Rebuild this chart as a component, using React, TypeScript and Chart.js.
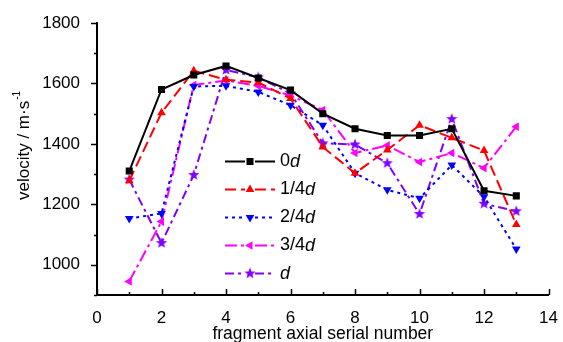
import React, { useEffect, useRef } from 'react';
import { Chart, registerables } from 'chart.js';

Chart.register(...registerables);

const fragments = [1, 2, 3, 4, 5, 6, 7, 8, 9, 10, 11, 12, 13];
const series0d = [1310, 1580, 1628, 1658, 1618, 1578, 1500, 1450, 1428, 1428, 1450, 1245, 1228];
const series1of4d = [1278, 1503, 1642, 1612, 1603, 1550, 1390, 1303, 1380, 1462, 1420, 1378, 1133];
const series2of4d = [1153, 1170, 1590, 1592, 1572, 1528, 1462, 1303, 1248, 1220, 1330, 1225, 1052];
const series3of4d = [945, 1143, 1595, 1610, 1592, 1560, 1512, 1370, 1395, 1340, 1370, 1320, 1457];
const seriesD = [1282, 1072, 1297, 1645, 1620, 1567, 1402, 1398, 1336, 1168, 1482, 1202, 1177];
const seriesLabels = ['0d', '1/4d', '2/4d', '3/4d', 'd'];
const yTickValues = [1000, 1200, 1400, 1600, 1800];
const xTickValues = [0, 2, 4, 6, 8, 10, 12, 14];

const FONT = '"Liberation Sans", Arial, sans-serif';

function makeStar(color: string, r: number) {
  const c = document.createElement('canvas');
  const s = Math.ceil(r * 2 + 2);
  c.width = s;
  c.height = s;
  const ctx = c.getContext('2d')!;
  ctx.beginPath();
  for (let i = 0; i < 10; i++) {
    const ang = -Math.PI / 2 + (i * Math.PI) / 5;
    const rr = i % 2 === 0 ? r : r * 0.42;
    ctx.lineTo(s / 2 + rr * Math.cos(ang), s / 2 + rr * Math.sin(ang));
  }
  ctx.closePath();
  ctx.fillStyle = color;
  ctx.fill();
  return c;
}

type Style = { color: string; dash: number[]; marker: string; rot: number };
const styles: Style[] = [
  { color: '#000000', dash: [], marker: 'rect', rot: 0 },
  { color: '#FF0000', dash: [11, 5], marker: 'triangle', rot: 0 },
  { color: '#0000FF', dash: [3, 4], marker: 'triangle', rot: 180 },
  { color: '#FF00FF', dash: [12, 4, 3, 4], marker: 'triangle', rot: 270 },
  { color: '#8000FF', dash: [9, 4, 3, 4], marker: 'star', rot: 0 },
];

function drawMarker(ctx: CanvasRenderingContext2D, st: Style, x: number, y: number, star: HTMLCanvasElement) {
  ctx.save();
  ctx.setLineDash([]);
  ctx.fillStyle = st.color;
  if (st.marker === 'rect') {
    ctx.fillRect(x - 3.5, y - 3.5, 7, 7);
  } else if (st.marker === 'triangle') {
    ctx.translate(x, y);
    ctx.rotate((st.rot * Math.PI) / 180);
    const r = 5;
    ctx.beginPath();
    ctx.moveTo(0, -r);
    ctx.lineTo(r * Math.cos(Math.PI / 6), r * 0.5);
    ctx.lineTo(-r * Math.cos(Math.PI / 6), r * 0.5);
    ctx.closePath();
    ctx.fill();
  } else {
    ctx.drawImage(star, x - star.width / 2, y - star.height / 2);
  }
  ctx.restore();
}

export default function App() {
  const ref = useRef<HTMLCanvasElement | null>(null);
  useEffect(() => {
    if (!ref.current) return;
    const star = makeStar('#8000FF', 6);
    const allSeries = [series0d, series1of4d, series2of4d, series3of4d, seriesD];

    const datasets = allSeries.map((vals, i) => {
      const st = styles[i];
      return {
        label: seriesLabels[i],
        data: fragments.map((f, j) => ({ x: f, y: vals[j] })),
        borderColor: st.color,
        backgroundColor: st.color,
        borderWidth: 2,
        borderDash: st.dash,
        pointStyle: st.marker === 'star' ? star : st.marker,
        pointRotation: st.rot,
        pointRadius: 5,
        pointBorderWidth: 0,
        pointBackgroundColor: st.color,
        pointBorderColor: st.color,
        tension: 0,
      };
    });

    const decor = {
      id: 'decor',
      afterDraw(chart: any) {
        const ctx: CanvasRenderingContext2D = chart.ctx;
        const xs = chart.scales.x;
        const ys = chart.scales.y;
        const area = chart.chartArea;
        ctx.save();
        ctx.strokeStyle = '#000';
        ctx.lineWidth = 1.5;
        ctx.setLineDash([]);
        for (let v = 900; v <= 1800; v += 100) {
          const py = Math.round(ys.getPixelForValue(v)) + 0.5;
          const len = v % 200 === 0 ? 6 : 3;
          ctx.beginPath();
          ctx.moveTo(area.left, py);
          ctx.lineTo(area.left - len, py);
          ctx.stroke();
        }
        for (let v = 0; v <= 14; v += 1) {
          const px = Math.round(xs.getPixelForValue(v)) + 0.5;
          const len = v % 2 === 0 ? 6 : 3;
          ctx.beginPath();
          ctx.moveTo(px, area.bottom);
          ctx.lineTo(px, area.bottom - len);
          ctx.stroke();
        }
        ctx.fillStyle = '#000';
        ctx.translate(24, 200);
        ctx.rotate(-Math.PI / 2);
        ctx.textAlign = 'left';
        ctx.textBaseline = 'middle';
        ctx.font = `17px ${FONT}`;
        const main = 'velocity / m·s';
        ctx.fillText(main, 0, 0);
        const w = ctx.measureText(main).width;
        ctx.font = `10px ${FONT}`;
        ctx.fillText('-1', w + 1, -7);
        ctx.restore();

        const rows = [161.5, 189.5, 217.5, 245.5, 273.5];
        rows.forEach((ry, i) => {
          const st = styles[i];
          ctx.save();
          ctx.strokeStyle = st.color;
          ctx.lineWidth = 2;
          ctx.setLineDash(st.dash);
          ctx.beginPath();
          ctx.moveTo(225, ry);
          ctx.lineTo(245, ry);
          ctx.stroke();
          ctx.beginPath();
          ctx.moveTo(255, ry);
          ctx.lineTo(275, ry);
          ctx.stroke();
          drawMarker(ctx, st, 250, ry, star);
          const label = seriesLabels[i];
          const pre = label.slice(0, -1);
          const last = label.slice(-1);
          ctx.fillStyle = '#000';
          ctx.textAlign = 'left';
          ctx.textBaseline = 'middle';
          ctx.font = `18px ${FONT}`;
          ctx.fillText(pre, 280, ry);
          const pw = ctx.measureText(pre).width;
          ctx.font = `italic 18px ${FONT}`;
          ctx.fillText(last, 280 + pw, ry);
          ctx.restore();
        });
      },
    };

    const chart = new Chart(ref.current, {
      type: 'line',
      data: { datasets },
      options: {
        animation: false,
        responsive: false,
        layout: { padding: { top: 23, right: 13, left: 0, bottom: 0 } },
        plugins: { legend: { display: false }, tooltip: { enabled: false } },
        scales: {
          x: {
            type: 'linear',
            min: 0,
            max: 14,
            afterBuildTicks: (s: any) => {
              s.ticks = xTickValues.map((v) => ({ value: v }));
            },
            afterFit: (s: any) => {
              s.height = 47;
            },
            ticks: {
              color: '#000',
              font: { family: FONT, size: 17 },
              padding: 5,
              maxRotation: 0,
              callback: (v: any) => String(v),
            },
            grid: { display: false },
            border: { display: true, color: '#000', width: 2 },
            title: {
              display: true,
              text: 'fragment axial serial number',
              color: '#000',
              font: { family: FONT, size: 17.5 },
              padding: { top: 0, bottom: -3 },
            },
          },
          y: {
            type: 'linear',
            min: 900,
            max: 1800,
            afterBuildTicks: (s: any) => {
              s.ticks = yTickValues.map((v) => ({ value: v }));
            },
            afterFit: (s: any) => {
              s.width = 97;
            },
            ticks: {
              color: '#000',
              font: { family: FONT, size: 17 },
              padding: 9,
              callback: (v: any) => String(v),
            },
            grid: { display: false },
            border: { display: true, color: '#000', width: 2 },
          },
        },
      } as any,
      plugins: [decor],
    });
    return () => chart.destroy();
  }, []);

  return (
    <div style={{ position: 'absolute', left: 0, top: 0, width: 563, height: 342, background: '#fff' }}>
      <canvas ref={ref} width={563} height={342} />
    </div>
  );
}
